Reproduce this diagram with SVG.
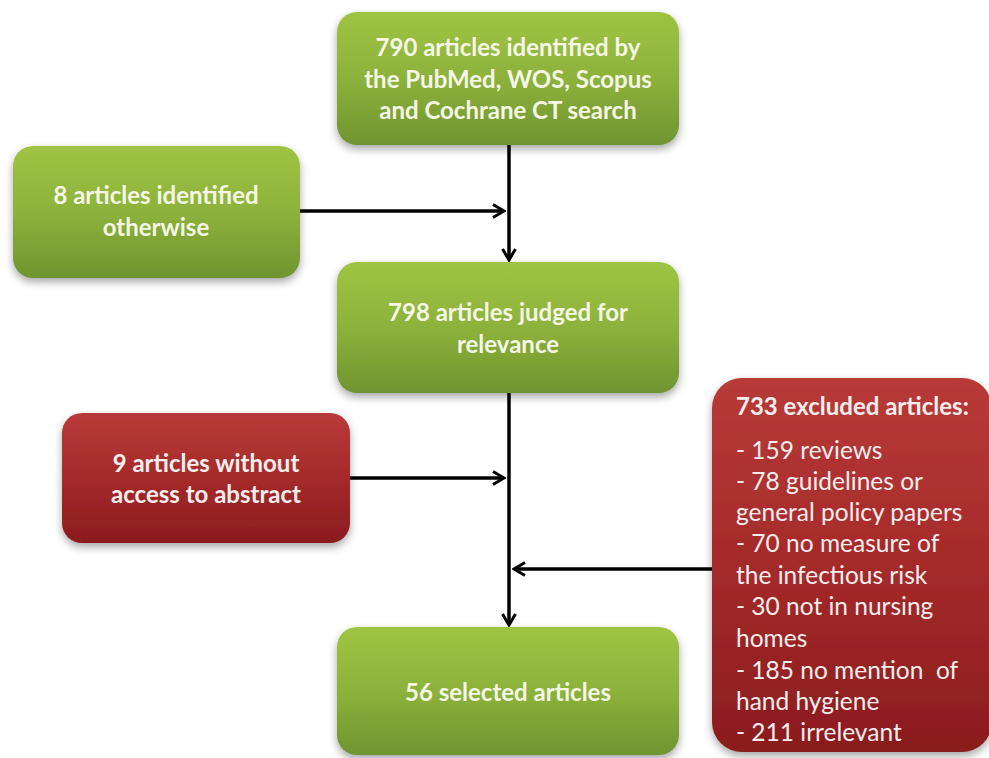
<svg xmlns="http://www.w3.org/2000/svg" width="989" height="758" viewBox="0 0 989 758">
<defs>
<linearGradient id="gG" x1="0" y1="0" x2="0" y2="1">
<stop offset="0" stop-color="#9fc444"/>
<stop offset="0.5" stop-color="#8db23b"/>
<stop offset="1" stop-color="#6f9430"/>
</linearGradient>
<linearGradient id="gR" x1="0" y1="0" x2="0" y2="1">
<stop offset="0" stop-color="#b83a38"/>
<stop offset="0.5" stop-color="#a52a2a"/>
<stop offset="1" stop-color="#8a1c1e"/>
</linearGradient>
<filter id="sh" x="-10%" y="-10%" width="120%" height="130%">
<feDropShadow dx="0" dy="4" stdDeviation="4" flood-color="#000" flood-opacity="0.35"/>
</filter>
<marker id="ah" viewBox="0 0 16 16" refX="14" refY="8" markerWidth="16" markerHeight="16" markerUnits="userSpaceOnUse" orient="auto">
<path d="M3,1.5 L14,8 L3,14.5" fill="none" stroke="#000" stroke-width="3"/>
</marker>
</defs>
<style>
.g{fill:url(#gG);filter:url(#sh)}
.r{fill:url(#gR);filter:url(#sh)}
.t{font-family:Lato,"Open Sans","Liberation Sans",sans-serif;font-weight:bold;font-size:24px;fill:#f4f7e6;text-anchor:middle}
.tr{font-family:Lato,"Open Sans","Liberation Sans",sans-serif;font-size:24.5px;fill:#f6eeee}
.c{stroke:#000;stroke-width:3.5;fill:none}
</style>
<rect width="989" height="758" fill="#fff"/>
<g id="connectors">
<line class="c" x1="509" y1="145" x2="509" y2="260" marker-end="url(#ah)"/>
<line class="c" x1="300" y1="211" x2="504" y2="211" marker-end="url(#ah)"/>
<line class="c" x1="509" y1="393" x2="509" y2="625" marker-end="url(#ah)"/>
<line class="c" x1="350" y1="478" x2="504" y2="478" marker-end="url(#ah)"/>
<line class="c" x1="712" y1="569" x2="514" y2="569" marker-end="url(#ah)"/>
</g>
<g id="n1">
<rect class="g" x="337" y="12" width="342" height="133" rx="20"/>
<text class="t" x="508" y="56">790 articles identified by</text>
<text class="t" x="508" y="88">the PubMed, WOS, Scopus</text>
<text class="t" x="508" y="119">and Cochrane CT search</text>
</g>
<g id="n2">
<rect class="g" x="13" y="146" width="287" height="132" rx="20"/>
<text class="t" x="156" y="204">8 articles identified</text>
<text class="t" x="156" y="236">otherwise</text>
</g>
<g id="n3">
<rect class="g" x="337" y="262" width="342" height="131" rx="20"/>
<text class="t" x="508" y="321">798 articles judged for</text>
<text class="t" x="508" y="353">relevance</text>
</g>
<g id="n4">
<rect class="r" x="62" y="413" width="288" height="130" rx="20"/>
<text class="t" x="206" y="472" style="fill:#f6eeee">9 articles without</text>
<text class="t" x="206" y="503" style="fill:#f6eeee">access to abstract</text>
</g>
<g id="n5">
<rect class="r" x="712" y="378" width="280" height="374" rx="30"/>
<text class="tr" x="736" y="415" style="font-weight:bold;font-size:24px">733 excluded articles:</text>
<text class="tr" x="736" y="459">- 159 reviews</text>
<text class="tr" x="736" y="490">- 78 guidelines or</text>
<text class="tr" x="736" y="521">general policy papers</text>
<text class="tr" x="736" y="552">- 70 no measure of</text>
<text class="tr" x="736" y="584">the infectious risk</text>
<text class="tr" x="736" y="615">- 30 not in nursing</text>
<text class="tr" x="736" y="647">homes</text>
<text class="tr" x="736" y="679" xml:space="preserve">- 185 no mention  of</text>
<text class="tr" x="736" y="710">hand hygiene</text>
<text class="tr" x="736" y="741">- 211 irrelevant</text>
</g>
<g id="n6">
<rect class="g" x="337" y="627" width="342" height="128" rx="20"/>
<text class="t" x="508" y="701">56 selected articles</text>
</g>
</svg>
